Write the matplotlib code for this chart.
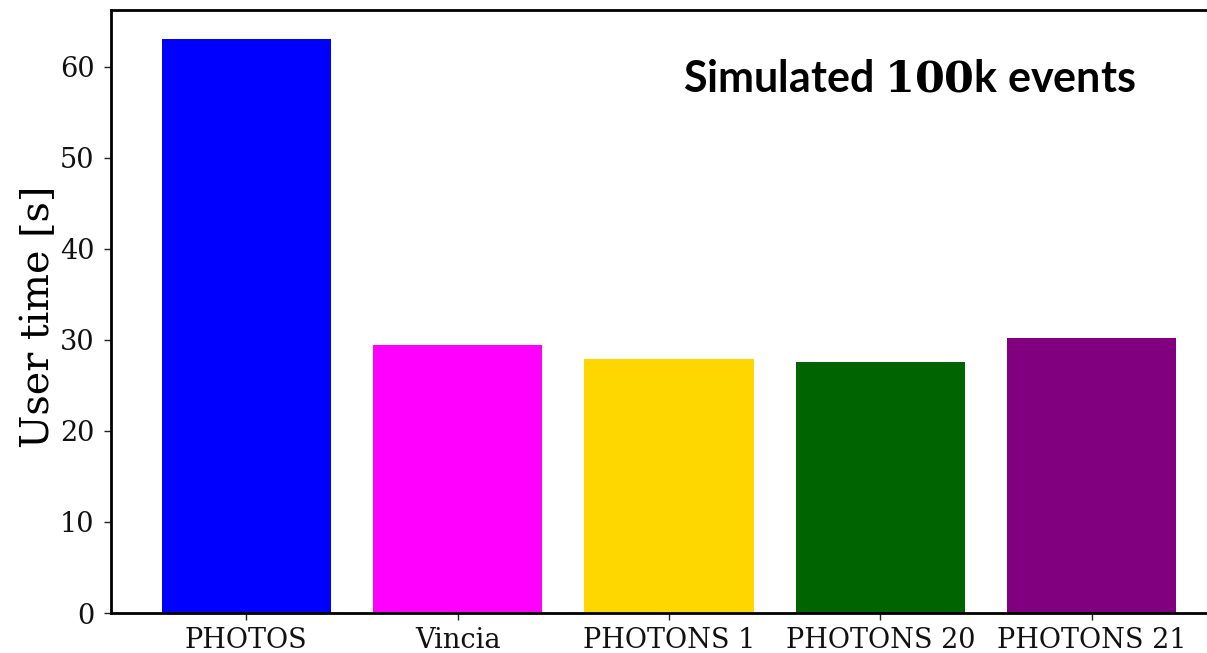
import matplotlib
matplotlib.use("Agg")
import matplotlib.pyplot as plt

categories = ["PHOTOS", "Vincia", "PHOTONS 1", "PHOTONS 20", "PHOTONS 21"]
user_time = [63.1, 29.5, 27.9, 27.6, 30.25]
colors = ["#0000FF", "#FF00FF", "#FFD700", "#006400", "#800080"]

plt.rcParams["font.family"] = ["DejaVu Serif"]
plt.rcParams["mathtext.fontset"] = "dejavuserif"

fig = plt.figure(figsize=(12.07, 6.53), dpi=100)
ax = fig.add_axes([111/1207, 1 - 613/653, (1227 - 111)/1207, (613 - 10)/653])

x = list(range(len(categories)))
ax.bar(x, user_time, width=0.8, color=colors)
ax.set_xticks(x)
ax.set_xticklabels(categories)
ax.set_xlim(-0.64, 4.64)
ax.set_ylim(0, 66.26)
ax.set_yticks([0, 10, 20, 30, 40, 50, 60])

for s in ax.spines.values():
    s.set_linewidth(2.0)
    s.set_color("black")

ax.tick_params(axis="both", labelsize=19.5, length=5, width=1.0, colors="#222222")
ax.tick_params(axis="y", pad=7)
ax.tick_params(axis="x", pad=5)
ax.tick_params(axis="both", labelcolor="#111111")
ax.set_ylabel("User time [s]", fontsize=28.5, labelpad=2)
ax.yaxis.label.set_position((0, (613 - 317) / 603))

ax.text(909/1207, 1 - 78/653, r"Simulated $\mathbf{100}$k events", transform=fig.transFigure,
        ha="center", va="center", fontsize=31, fontweight="bold", family="Lato")

fig.savefig("out.png", dpi=100)
